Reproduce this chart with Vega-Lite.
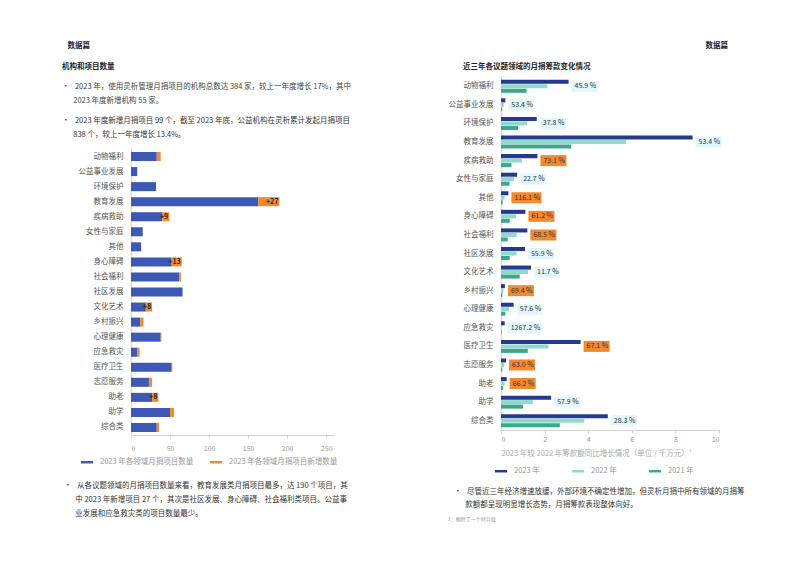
{
  "$schema": "https://vega.github.io/schema/vega-lite/v6.json",
  "background": "white",
  "padding": {"left": 62, "top": 30, "right": 5, "bottom": 0},
  "spacing": 96,
  "resolve": {"scale": {"color": "independent", "x": "independent", "y": "independent"}, "legend": {"color": "independent"}},
  "config": {
    "font": "Noto Sans CJK SC",
    "view": {"stroke": null},
    "axis": {"labelFontSize": 7, "labelColor": "#999999", "domainColor": "#d3d3d3", "tickColor": "#d3d3d3", "tickSize": 3, "grid": false, "titleFontSize": 7.5, "titleColor": "#aaaaaa", "titleFontWeight": "normal"},
    "axisY": {"labelFontSize": 7.5, "labelColor": "#555555", "ticks": false, "labelPadding": 8},
    "legend": {"labelFontSize": 7.5, "labelColor": "#999999", "symbolType": "M-1,-0.2L1,-0.2L1,0.2L-1,0.2Z", "symbolSize": 150, "labelOffset": 6},
    "title": {"fontSize": 7.5, "fontWeight": "normal", "color": "#333333", "anchor": "start", "frame": "group", "orient": "bottom", "subtitleFontSize": 7.5, "subtitleColor": "#444444", "subtitleFontWeight": "normal"}
  },
  "hconcat": [
    {
      "spacing": 10,
      "vconcat": [
        {
          "width": 1, "height": 1,
          "data": {"values": [{}]},
          "mark": {"type": "point", "size": 0, "opacity": 0},
          "encoding": {},
          "title": {
            "text": ["\u200b\u2002\u00a0数据篇", "机构和项目数量"],
            "fontWeight": "bold", "color": "#222222", "lineHeight": 21,
            "subtitle": ["•\u2002\u00a02023 年，使用灵析管理月捐项目的机构总数达 384 家，较上一年度增长 17%，其中", "\u200b\u2002\u2002\u20022023 年度新增机构 55 家。"],
            "subtitleLineHeight": 14.2, "subtitlePadding": 12,
            "offset": 11, "dx": -69
          }
        },
        {
          "width": 1, "height": 1,
          "data": {"values": [{}]},
          "mark": {"type": "point", "size": 0, "opacity": 0},
          "encoding": {},
          "title": {
            "text": ["•\u2002\u00a02023 年度新增月捐项目 99 个，截至 2023 年底，公益机构在灵析累计发起月捐项目", "\u200b\u2002\u2002\u2002838 个，较上一年度增长 13.4%。"],
            "lineHeight": 14.2, "offset": 1, "dx": -69
          }
        },
        {
          "width": 203,
          "height": 286,
          "data": {"values": [
            {"cat": "动物福利", "2023 年各领域月捐项目数量": 33, "2023 年各领域月捐项目新增数量": 5},
            {"cat": "公益事业发展", "2023 年各领域月捐项目数量": 8, "2023 年各领域月捐项目新增数量": 0},
            {"cat": "环境保护", "2023 年各领域月捐项目数量": 32, "2023 年各领域月捐项目新增数量": 0},
            {"cat": "教育发展", "2023 年各领域月捐项目数量": 163, "2023 年各领域月捐项目新增数量": 27},
            {"cat": "疾病救助", "2023 年各领域月捐项目数量": 40, "2023 年各领域月捐项目新增数量": 9},
            {"cat": "女性与家庭", "2023 年各领域月捐项目数量": 15, "2023 年各领域月捐项目新增数量": 0},
            {"cat": "其他", "2023 年各领域月捐项目数量": 13, "2023 年各领域月捐项目新增数量": 0},
            {"cat": "身心障碍", "2023 年各领域月捐项目数量": 52, "2023 年各领域月捐项目新增数量": 13},
            {"cat": "社会福利", "2023 年各领域月捐项目数量": 62, "2023 年各领域月捐项目新增数量": 2},
            {"cat": "社区发展", "2023 年各领域月捐项目数量": 66, "2023 年各领域月捐项目新增数量": 0},
            {"cat": "文化艺术", "2023 年各领域月捐项目数量": 19, "2023 年各领域月捐项目新增数量": 8},
            {"cat": "乡村振兴", "2023 年各领域月捐项目数量": 12, "2023 年各领域月捐项目新增数量": 4},
            {"cat": "心理健康", "2023 年各领域月捐项目数量": 38, "2023 年各领域月捐项目新增数量": 1},
            {"cat": "应急救灾", "2023 年各领域月捐项目数量": 8, "2023 年各领域月捐项目新增数量": 3},
            {"cat": "医疗卫生", "2023 年各领域月捐项目数量": 52, "2023 年各领域月捐项目新增数量": 1},
            {"cat": "志愿服务", "2023 年各领域月捐项目数量": 23, "2023 年各领域月捐项目新增数量": 4},
            {"cat": "助老", "2023 年各领域月捐项目数量": 27, "2023 年各领域月捐项目新增数量": 8},
            {"cat": "助学", "2023 年各领域月捐项目数量": 50, "2023 年各领域月捐项目新增数量": 5},
            {"cat": "综合类", "2023 年各领域月捐项目数量": 33, "2023 年各领域月捐项目新增数量": 3}
          ]},
          "transform": [
            {"fold": ["2023 年各领域月捐项目数量", "2023 年各领域月捐项目新增数量"], "as": ["series", "count"]},
            {"stack": "count", "groupby": ["cat"], "sort": [{"field": "series", "order": "ascending"}], "as": ["x0", "x1"]}
          ],
          "encoding": {
            "y": {"field": "cat", "type": "nominal", "sort": null, "title": null, "scale": {"paddingInner": 0.4, "paddingOuter": 0.2}}
          },
          "layer": [
            {
              "mark": "bar",
              "encoding": {
                "x": {"field": "x0", "type": "quantitative", "scale": {"domain": [0, 250]}, "axis": {"values": [0, 50, 100, 150, 200, 250], "title": null, "labelPadding": 6}},
                "x2": {"field": "x1"},
                "color": {
                  "field": "series", "type": "nominal",
                  "scale": {"domain": ["2023 年各领域月捐项目数量", "2023 年各领域月捐项目新增数量"], "range": ["#3d58b5", "#f28a2e"]},
                  "legend": {"title": null, "orient": "none", "legendX": -51, "legendY": 425, "direction": "horizontal", "columnPadding": 15}
                }
              }
            },
            {
              "transform": [{"filter": "datum.series == '2023 年各领域月捐项目新增数量' && datum.count >= 8"}],
              "mark": {"type": "text", "align": "right", "baseline": "middle", "dx": -1, "fontSize": 7, "fontWeight": "bold", "color": "#2a2a2a"},
              "encoding": {
                "x": {"field": "x1", "type": "quantitative"},
                "text": {"field": "count", "type": "quantitative", "format": "+d"}
              }
            }
          ]
        },
        {
          "width": 1, "height": 1,
          "data": {"values": [{}]},
          "mark": {"type": "point", "size": 0, "opacity": 0},
          "encoding": {},
          "title": {
            "text": ["•\u2002\u00a0从各议题领域的月捐项目数量来看，教育发展类月捐项目最多，达 190 个项目，其", "\u200b\u2002\u2002\u2002中 2023 年新增项目 27 个，其次是社区发展、身心障碍、社会福利类项目。公益事", "\u200b\u2002\u2002\u2002业发展和应急救灾类的项目数量最少。"],
            "lineHeight": 14.2, "offset": 20, "dx": -67
          }
        }
      ]
    },
    {
      "spacing": 6,
      "vconcat": [
        {
          "width": 218, "height": 1,
          "data": {"values": [{}]},
          "mark": {"type": "point", "size": 0, "opacity": 0},
          "encoding": {},
          "title": {"text": "数据篇", "anchor": "end", "fontWeight": "bold", "color": "#222222", "offset": 11, "dx": 9}
        },
        {
          "width": 1, "height": 1,
          "data": {"values": [{}]},
          "mark": {"type": "point", "size": 0, "opacity": 0},
          "encoding": {},
          "title": {"text": "近三年各议题领域的月捐筹款变化情况", "fontWeight": "bold", "color": "#222222", "offset": 6, "dx": -38}
        },
        {
          "width": 218,
          "height": 353,
          "data": {"values": [
            {"cat": "动物福利", "2023 年": 3.1, "2022 年": 2.12, "2021 年": 1.17, "growth": 45.9},
            {"cat": "公益事业发展", "2023 年": 0.2, "2022 年": 0.13, "2021 年": 0.05, "growth": 53.4},
            {"cat": "环境保护", "2023 年": 1.64, "2022 年": 1.19, "2021 年": 0.78, "growth": 37.8},
            {"cat": "教育发展", "2023 年": 8.79, "2022 年": 5.73, "2021 年": 3.22, "growth": 53.4},
            {"cat": "疾病救助", "2023 年": 1.67, "2022 年": 0.96, "2021 年": 0.48, "growth": 73.1},
            {"cat": "女性与家庭", "2023 年": 0.74, "2022 年": 0.6, "2021 年": 0.39, "growth": 22.7},
            {"cat": "其他", "2023 年": 0.34, "2022 年": 0.16, "2021 年": 0.08, "growth": 116.1},
            {"cat": "身心障碍", "2023 年": 1.12, "2022 年": 0.69, "2021 年": 0.4, "growth": 61.2},
            {"cat": "社会福利", "2023 年": 1.21, "2022 年": 0.72, "2021 年": 0.31, "growth": 68.5},
            {"cat": "社区发展", "2023 年": 1.1, "2022 年": 0.71, "2021 年": 0.4, "growth": 55.9},
            {"cat": "文化艺术", "2023 年": 1.38, "2022 年": 1.24, "2021 年": 0.86, "growth": 11.7},
            {"cat": "乡村振兴", "2023 年": 0.18, "2022 年": 0.11, "2021 年": 0.06, "growth": 69.4},
            {"cat": "心理健康", "2023 年": 0.58, "2022 年": 0.37, "2021 年": 0.2, "growth": 57.6},
            {"cat": "应急救灾", "2023 年": 0.17, "2022 年": 0.012, "2021 年": 0.03, "growth": 1267.2},
            {"cat": "医疗卫生", "2023 年": 3.65, "2022 年": 2.18, "2021 年": 1.23, "growth": 67.1},
            {"cat": "志愿服务", "2023 年": 0.23, "2022 年": 0.14, "2021 年": 0.06, "growth": 63.0},
            {"cat": "助老", "2023 年": 0.26, "2022 年": 0.16, "2021 年": 0.09, "growth": 66.2},
            {"cat": "助学", "2023 年": 2.3, "2022 年": 1.46, "2021 年": 1.01, "growth": 57.9},
            {"cat": "综合类", "2023 年": 4.9, "2022 年": 3.82, "2021 年": 2.7, "growth": 28.3}
          ]},
          "encoding": {
            "y": {"field": "cat", "type": "nominal", "sort": null, "title": null, "scale": {"paddingInner": 0.3, "paddingOuter": 0.15}}
          },
          "layer": [
            {
              "transform": [{"fold": ["2023 年", "2022 年", "2021 年"], "as": ["year", "amount"]}],
              "mark": "bar",
              "encoding": {
                "x": {"field": "amount", "type": "quantitative", "scale": {"domain": [0, 10]}, "axis": {"values": [0, 2, 4, 6, 8, 10], "title": "2023 年较 2022 年筹款额同比增长情况（单位 / 千万元）¹", "titleAnchor": "start", "titlePadding": 7}},
                "yOffset": {"field": "year", "type": "nominal", "sort": ["2023 年", "2022 年", "2021 年"], "scale": {"paddingInner": 0.1}},
                "color": {
                  "field": "year", "type": "nominal",
                  "scale": {"domain": ["2023 年", "2022 年", "2021 年"], "range": ["#253a8e", "#8fd9cd", "#3aa98b"]},
                  "legend": {"title": null, "orient": "none", "legendX": -7, "legendY": 434, "direction": "horizontal", "columnPadding": 31}
                }
              }
            },
            {
              "transform": [{"calculate": "format(datum.growth, '.1f') + ' %'", "as": "label"}],
              "mark": {"type": "bar", "height": 11, "xOffset": 3, "x2Offset": {"expr": "5 + length(datum.label) * 4"}},
              "encoding": {
                "x": {"field": "2023 年", "type": "quantitative"},
                "x2": {"field": "2023 年"},
                "color": {"condition": {"test": "datum.growth > 60 && datum.growth < 1000", "value": "#f4882e"}, "value": "#e2f6fb"}
              }
            },
            {
              "transform": [{"calculate": "format(datum.growth, '.1f') + ' %'", "as": "label"}],
              "mark": {"type": "text", "align": "left", "baseline": "middle", "dx": 6, "fontSize": 7, "color": "#333333"},
              "encoding": {
                "x": {"field": "2023 年", "type": "quantitative"},
                "text": {"field": "label"}
              }
            }
          ]
        },
        {
          "width": 1, "height": 1,
          "data": {"values": [{}]},
          "mark": {"type": "point", "size": 0, "opacity": 0},
          "encoding": {},
          "title": {
            "text": ["•\u2002\u00a0尽管近三年经济增速放缓，外部环境不确定性增加，但灵析月捐中所有领域的月捐筹", "\u200b\u2002\u2002\u2002款额都呈现明显增长态势，月捐筹款表现整体向好。"],
            "lineHeight": 12.5, "offset": 24, "dx": -47
          }
        },
        {
          "width": 1, "height": 1,
          "data": {"values": [{}]},
          "mark": {"type": "point", "size": 0, "opacity": 0},
          "encoding": {},
          "title": {"text": "1：剔除了一个特异值", "fontSize": 5, "color": "#999999", "offset": 2, "dx": -53}
        }
      ]
    }
  ]
}
